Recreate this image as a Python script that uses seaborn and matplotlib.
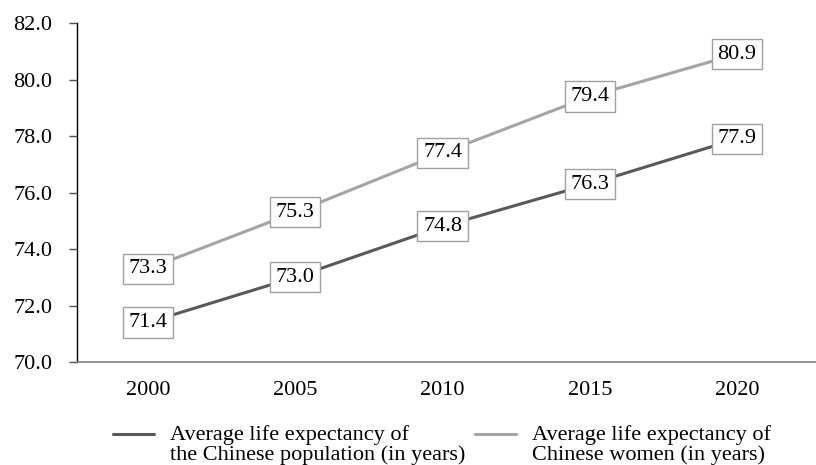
import pandas as pd
import matplotlib.pyplot as plt
import seaborn as sns

# Data
years = ["2000", "2005", "2010", "2015", "2020"]
population = [71.4, 73.0, 74.8, 76.3, 77.9]
women = [73.3, 75.3, 77.4, 79.4, 80.9]
series_names = ["Average life expectancy of\nthe Chinese population (in years)",
                "Average life expectancy of\nChinese women (in years)"]

df = pd.DataFrame({
    "Year": years * 2,
    "Value": population + women,
    "Series": [series_names[0]] * 5 + [series_names[1]] * 5,
})

sns.set_style("white")
plt.rcParams["font.family"] = ["Liberation Serif", "DejaVu Serif"]
plt.rcParams["text.color"] = "black"
plt.rcParams["xtick.labelcolor"] = "black"
plt.rcParams["ytick.labelcolor"] = "black"

fig, ax = plt.subplots(figsize=(8.16, 4.65), dpi=100)
fig.subplots_adjust(left=0.0944, right=1.0, top=0.9505, bottom=0.2215)

palette = {series_names[0]: "#595959", series_names[1]: "#a5a5a5"}
sns.lineplot(data=df, x="Year", y="Value", hue="Series", palette=palette,
             linewidth=2.2, sort=False, ax=ax)

# Value labels in boxes centred on the points
for vals in (population, women):
    for i, v in enumerate(vals):
        ax.text(i, v, f"{v:.1f}", ha="center", va="center", fontsize=16, color="black",
                bbox=dict(boxstyle="square,pad=0.25", fc="white", ec="#a0a0a0", lw=1))

ax.set_xlim(-0.482, 4.536)
ax.set_ylim(70, 82)
ax.set_yticks(range(70, 83, 2))
ax.set_yticklabels([f"{t:.1f}" for t in range(70, 83, 2)])
ax.set_xlabel("")
ax.set_ylabel("")
ax.tick_params(axis="y", labelsize=16, length=6, width=1, color="#505050", left=True,
               pad=12, labelcolor="black")
ax.tick_params(axis="x", labelsize=16, length=0, pad=14, labelcolor="black")

for side in ("top", "right"):
    ax.spines[side].set_visible(False)
ax.spines["left"].set_color("black")
ax.spines["left"].set_linewidth(1)
ax.spines["bottom"].set_color("#808080")
ax.spines["bottom"].set_linewidth(1.2)

leg = ax.legend(loc="upper left", bbox_to_anchor=(113 / 816, 1 - 425 / 465),
                bbox_transform=fig.transFigure, ncol=2, frameon=False,
                fontsize=16, handlelength=1.85, columnspacing=0.45,
                handletextpad=0.7, borderpad=0, borderaxespad=0, labelspacing=0)
for t in leg.get_texts():
    t.set_linespacing(1.0)
    t.set_color("black")
# put the legend line next to the first text line
for ln in leg.get_lines():
    ln.set_linewidth(2.2)
    ln.set_ydata([y + 7.5 for y in ln.get_ydata()])

fig.savefig("out.png", dpi=100)
